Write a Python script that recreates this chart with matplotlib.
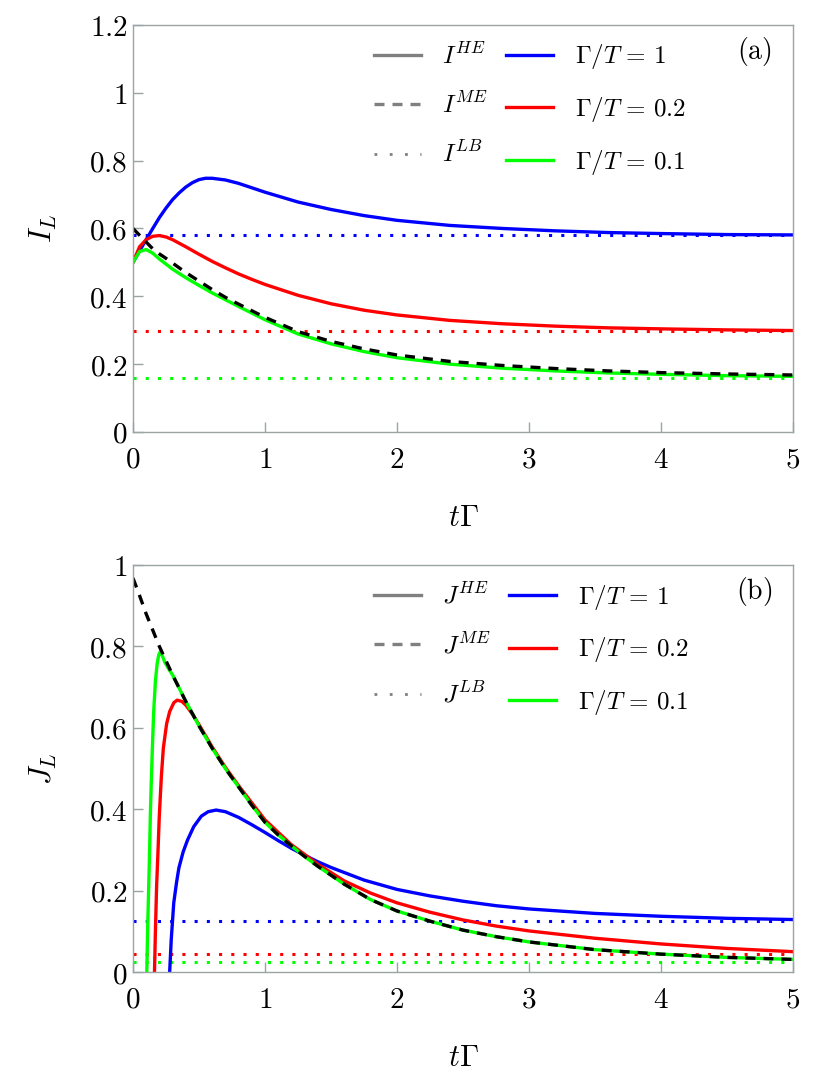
import matplotlib
matplotlib.use("Agg")
import matplotlib.pyplot as plt
from matplotlib.lines import Line2D
from matplotlib.ticker import FuncFormatter, FixedLocator

plt.rcParams['mathtext.fontset'] = 'cm'
plt.rcParams['font.family'] = ['DejaVu Serif']

# ---------------- data: panel (a) particle current I_L ----------------
tI_blue = [0, 0.05, 0.1, 0.15, 0.2, 0.25, 0.3, 0.35, 0.4, 0.45, 0.5, 0.55, 0.6, 0.7, 0.8, 0.9, 1.0, 1.25, 1.5, 1.75, 2.0, 2.4, 2.8, 3.2, 3.6, 4.0, 4.5, 5.0]
I_HE_blue = [0.50, 0.534, 0.567, 0.600, 0.632, 0.66, 0.685, 0.705, 0.722, 0.735, 0.744, 0.748, 0.748, 0.743, 0.733, 0.72, 0.707, 0.678, 0.656, 0.638, 0.624, 0.609, 0.600, 0.593, 0.588, 0.585, 0.582, 0.581]
tI_red = [0, 0.05, 0.1, 0.15, 0.2, 0.25, 0.3, 0.4, 0.5, 0.6, 0.7, 0.8, 0.9, 1.0, 1.25, 1.5, 1.75, 2.0, 2.4, 2.8, 3.2, 3.6, 4.0, 4.5, 5.0]
I_HE_red = [0.50, 0.546, 0.567, 0.577, 0.579, 0.575, 0.567, 0.546, 0.524, 0.503, 0.484, 0.466, 0.450, 0.435, 0.403, 0.378, 0.359, 0.345, 0.329, 0.319, 0.312, 0.307, 0.304, 0.301, 0.299]
tI_green = [0, 0.05, 0.1, 0.15, 0.2, 0.25, 0.3, 0.4, 0.5, 0.6, 0.7, 0.8, 1.0, 1.25, 1.5, 1.75, 2.0, 2.4, 2.8, 3.2, 3.6, 4.0, 4.5, 5.0]
I_HE_green = [0.50, 0.532, 0.538, 0.527, 0.51, 0.495, 0.48, 0.455, 0.432, 0.41, 0.39, 0.37, 0.331, 0.289, 0.26, 0.237, 0.219, 0.200, 0.188, 0.180, 0.174, 0.170, 0.166, 0.164]
tI_ME = [0, 0.05, 0.1, 0.15, 0.2, 0.25, 0.3, 0.4, 0.5, 0.6, 0.7, 0.8, 1.0, 1.25, 1.5, 1.75, 2.0, 2.4, 2.8, 3.2, 3.6, 4.0, 4.5, 5.0]
I_ME = [0.60, 0.58, 0.56, 0.54, 0.525, 0.512, 0.498, 0.47, 0.445, 0.42, 0.397, 0.377, 0.338, 0.296, 0.267, 0.245, 0.227, 0.208, 0.196, 0.187, 0.180, 0.175, 0.171, 0.168]
I_LB = {'blue': 0.580, 'red': 0.297, 'green': 0.158}

# ---------------- data: panel (b) energy current J_L ----------------
tJ_blue = [0.27, 0.278, 0.29, 0.309, 0.33, 0.348, 0.38, 0.413, 0.46, 0.518, 0.57, 0.63, 0.7, 0.8, 0.9, 1.0, 1.1, 1.2, 1.3, 1.4, 1.5, 1.75, 2.0, 2.25, 2.5, 2.75, 3.0, 3.5, 4.0, 4.5, 5.0]
J_HE_blue = [-0.05, 0.0, 0.08, 0.17, 0.22, 0.256, 0.295, 0.324, 0.357, 0.383, 0.394, 0.398, 0.394, 0.38, 0.362, 0.343, 0.323, 0.304, 0.287, 0.271, 0.257, 0.226, 0.203, 0.187, 0.174, 0.163, 0.155, 0.144, 0.137, 0.132, 0.129]
tJ_red = [0.158, 0.163, 0.17, 0.179, 0.19, 0.199, 0.215, 0.23, 0.255, 0.278, 0.31, 0.335, 0.37, 0.4, 0.45, 0.5, 0.6, 0.7, 0.8, 1.0, 1.2, 1.4, 1.6, 1.8, 2.0, 2.25, 2.5, 2.75, 3.0, 3.5, 4.0, 4.5, 5.0]
J_HE_red = [-0.06, 0.0, 0.1, 0.21, 0.30, 0.38, 0.48, 0.55, 0.61, 0.64, 0.662, 0.668, 0.665, 0.656, 0.634, 0.608, 0.553, 0.503, 0.458, 0.374, 0.313, 0.265, 0.224, 0.194, 0.17, 0.147, 0.128, 0.113, 0.101, 0.083, 0.069, 0.058, 0.05]
tJ_green = [0.1, 0.105, 0.109, 0.113, 0.12, 0.126, 0.132, 0.139, 0.148, 0.157, 0.17, 0.183, 0.195, 0.205, 0.22, 0.24, 0.27, 0.3, 0.4, 0.5, 0.6, 0.7, 0.8, 0.9, 1.0, 1.1, 1.2, 1.3, 1.4, 1.6, 1.8, 2.0, 2.25, 2.5, 2.75, 3.0, 3.5, 4.0, 4.5, 5.0]
J_HE_green = [-0.1, 0.0, 0.07, 0.13, 0.22, 0.30, 0.39, 0.47, 0.56, 0.64, 0.715, 0.757, 0.779, 0.786, 0.779, 0.762, 0.745, 0.73, 0.665, 0.605, 0.55, 0.50, 0.455, 0.41, 0.368, 0.337, 0.31, 0.284, 0.26, 0.216, 0.178, 0.15, 0.125, 0.103, 0.087, 0.074, 0.055, 0.044, 0.036, 0.031]
tJ_ME = [0, 0.05, 0.1, 0.15, 0.2, 0.25, 0.3, 0.4, 0.5, 0.6, 0.7, 0.8, 0.9, 1.0, 1.1, 1.2, 1.3, 1.4, 1.6, 1.8, 2.0, 2.25, 2.5, 2.75, 3.0, 3.5, 4.0, 4.5, 5.0]
J_ME = [0.968, 0.925, 0.88, 0.84, 0.80, 0.765, 0.73, 0.665, 0.605, 0.55, 0.50, 0.455, 0.41, 0.368, 0.337, 0.31, 0.284, 0.26, 0.216, 0.178, 0.15, 0.125, 0.103, 0.087, 0.074, 0.055, 0.044, 0.036, 0.031]
J_LB = {'blue': 0.125, 'red': 0.045, 'green': 0.024}

ratios = ['1', '0.2', '0.1']
colors = {'blue': '#0000ff', 'red': '#ff0000', 'green': '#00ff00'}
xticks = [0, 1, 2, 3, 4, 5]
yticks_a = [0, 0.2, 0.4, 0.6, 0.8, 1.0, 1.2]
yticks_b = [0, 0.2, 0.4, 0.6, 0.8, 1.0]

LW = 2.4
SPINE = '#9aa4a4'
DOT = (0, (1, 3))
DASH = (0, (3, 2.4))

fig = plt.figure(figsize=(8.3, 10.81), dpi=100)
axA = fig.add_axes([0.1602, 0.6004, 0.7952, 0.3765])
axB = fig.add_axes([0.1602, 0.1008, 0.7952, 0.3765])

fmt = FuncFormatter(lambda v, p: f'${v:g}$')

def style(ax, yticks, ylim, ylabel):
    ax.set_xlim(0, 5)
    ax.set_ylim(*ylim)
    ax.xaxis.set_major_locator(FixedLocator(xticks))
    ax.yaxis.set_major_locator(FixedLocator(yticks))
    ax.xaxis.set_major_formatter(fmt)
    ax.yaxis.set_major_formatter(fmt)
    for s in ax.spines.values():
        s.set_color(SPINE)
        s.set_linewidth(1.0)
    ax.tick_params(direction='in', length=7, width=1.0, color=SPINE,
                   labelsize=21, top=False, right=False)
    ax.tick_params(axis='x', pad=10)
    ax.tick_params(axis='y', pad=4)
    ax.set_xlabel(r'$t\Gamma$', fontsize=22)
    ax.set_ylabel(ylabel, fontsize=22)
    ax.xaxis.set_label_coords(0.5, -0.172)
    ax.yaxis.set_label_coords(-0.112, 0.5)

def legend(ax, sym, tag):
    gray = '#808080'
    handles = [Line2D([], [], color=gray, lw=LW),
               Line2D([], [], color=gray, lw=LW, ls=DASH),
               Line2D([], [], color=gray, lw=2.0, ls=(0, (1, 4.5))),
               Line2D([], [], color=colors['blue'], lw=LW),
               Line2D([], [], color=colors['red'], lw=LW),
               Line2D([], [], color=colors['green'], lw=LW)]
    labels = [rf'${sym}^{{HE}}$', rf'${sym}^{{ME}}$', rf'${sym}^{{LB}}$'] + \
             [rf'$\Gamma/T\,=\,{r}$' for r in ratios]
    ax.legend(handles, labels, ncol=2, frameon=False, fontsize=18,
              loc='upper left', bbox_to_anchor=(0.338, 1.0), borderaxespad=0.3,
              handlelength=1.9, handletextpad=0.85, columnspacing=0.7,
              labelspacing=0.95)
    ax.text(0.941, 0.934, rf'$\mathrm{{({tag})}}$', transform=ax.transAxes,
            fontsize=20, ha='center', va='center')

# panel (a)
for c in ['blue', 'red', 'green']:
    axA.axhline(I_LB[c], color=colors[c], lw=2.2, ls=DOT)
axA.plot(tI_blue, I_HE_blue, color=colors['blue'], lw=LW)
axA.plot(tI_red, I_HE_red, color=colors['red'], lw=LW)
axA.plot(tI_green, I_HE_green, color=colors['green'], lw=LW)
axA.plot(tI_ME, I_ME, color='black', lw=LW, ls=DASH)
style(axA, yticks_a, (0, 1.2), r'$I_L$')
legend(axA, 'I', 'a')

# panel (b)
for c in ['blue', 'red', 'green']:
    axB.axhline(J_LB[c], color=colors[c], lw=2.2, ls=DOT)
axB.plot(tJ_blue, J_HE_blue, color=colors['blue'], lw=LW)
axB.plot(tJ_red, J_HE_red, color=colors['red'], lw=LW)
axB.plot(tJ_green, J_HE_green, color=colors['green'], lw=LW)
axB.plot(tJ_ME, J_ME, color='black', lw=LW, ls=DASH)
style(axB, yticks_b, (0, 1.0), r'$J_L$')
legend(axB, 'J', 'b')

fig.savefig('out.png', dpi=100)
